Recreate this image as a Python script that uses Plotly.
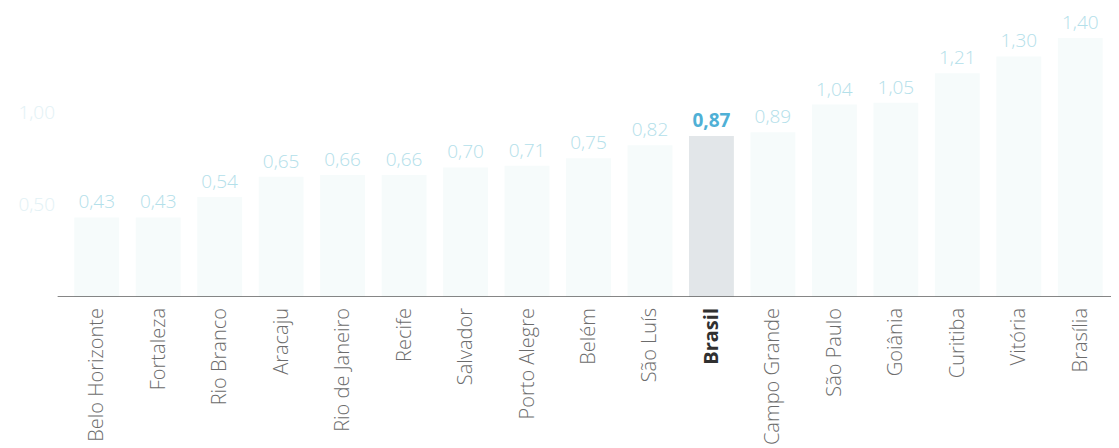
import plotly.graph_objects as go

cities = ["Belo Horizonte", "Fortaleza", "Rio Branco", "Aracaju", "Rio de Janeiro",
          "Recife", "Salvador", "Porto Alegre", "Belém", "São Luís", "Brasil",
          "Campo Grande", "São Paulo", "Goiânia", "Curitiba", "Vitória", "Brasília"]
values = [0.43, 0.43, 0.54, 0.65, 0.66, 0.66, 0.70, 0.71, 0.75, 0.82, 0.87,
          0.89, 1.04, 1.05, 1.21, 1.30, 1.40]
highlight = "Brasil"
y_ticks = [0.5, 1.0]

fmt = lambda v: f"{v:.2f}".replace(".", ",")
bar_colors = ["#e2e6e9" if c == highlight else "#f6fbfb" for c in cities]
texts = [f"<b>{fmt(v)}</b>" if c == highlight else fmt(v) for c, v in zip(cities, values)]
text_colors = ["#4fb0d6" if c == highlight else "#b3e0ea" for c in cities]
tick_text = [f"<b><span style='color:#303030'>{c}</span></b>" if c == highlight else c for c in cities]

fig = go.Figure(go.Bar(
    x=cities, y=values, marker_color=bar_colors, marker_line_width=0,
    text=texts, textposition="outside", cliponaxis=False,
    textfont=dict(color=text_colors, size=19, family="Open Sans", weight=300),
))

fig.add_shape(type="line", xref="paper", yref="y", x0=-0.008, x1=1.01, y0=0, y1=0,
              line=dict(color="#5e5e5e", width=1.6))

fig.update_layout(
    width=1111, height=440,
    margin=dict(l=58, r=8, t=0, b=151),
    paper_bgcolor="white", plot_bgcolor="white",
    bargap=0.27, showlegend=False,
    font=dict(family="Open Sans", color="#6c6c6c"),
    xaxis=dict(tickangle=-90, tickfont=dict(size=20, color="#6c6c6c", weight=300),
               tickmode="array", tickvals=cities, ticktext=tick_text,
               showline=False, ticks="", automargin=False, ticklabelstandoff=6),
    yaxis=dict(range=[0, 1.562], tickvals=y_ticks, ticktext=[fmt(v) for v in y_ticks],
               tickfont=dict(size=19, color="#e2f1f5", weight=300), showgrid=False,
               zeroline=False, showline=False, automargin=False, ticklabelstandoff=10),
)

fig.write_html("out.html")
